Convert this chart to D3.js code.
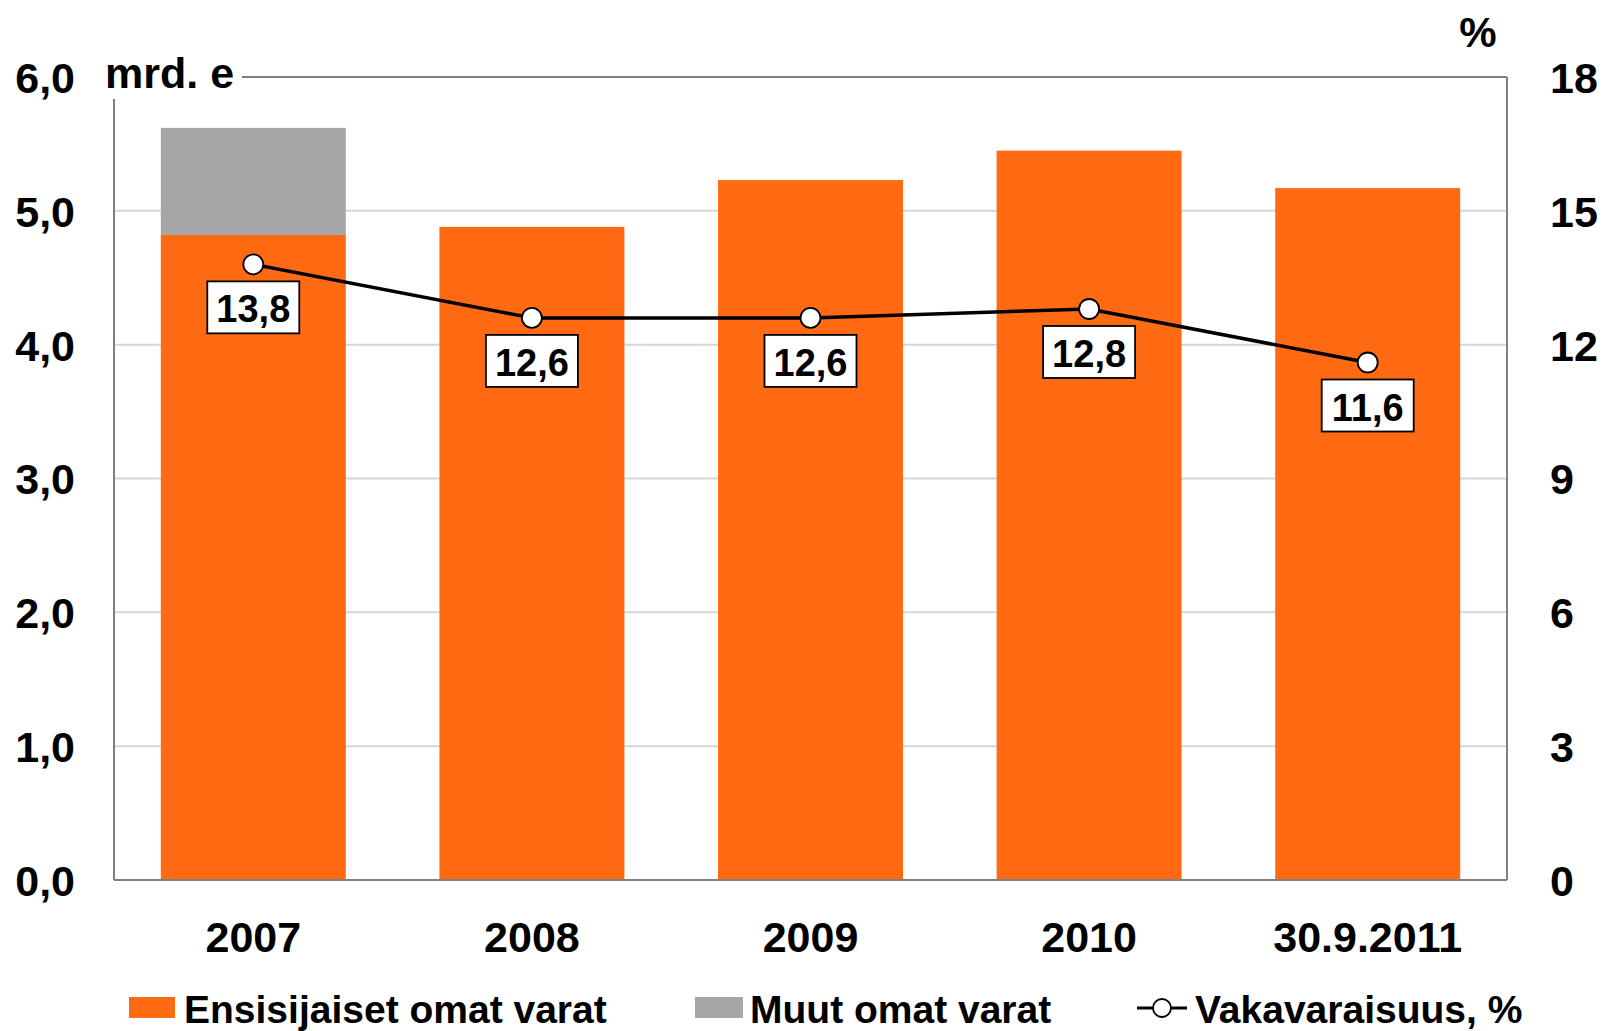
<!DOCTYPE html>
<html>
<head>
<meta charset="utf-8">
<script src="https://cdn.jsdelivr.net/npm/d3@7"></script>
<style>
  html, body { margin: 0; padding: 0; background: #fff; }
  svg { display: block; font-family: "Liberation Sans", Arial, sans-serif; font-weight: bold; }
</style>
</head>
<body>
<svg id="chart" width="1603" height="1031"></svg>
<script>
// Own funds of the banking sector (bn EUR) and capital adequacy ratio (%)
const categories = ["2007", "2008", "2009", "2010", "30.9.2011"];
const primaryFunds = [4.82, 4.88, 5.23, 5.45, 5.17];   // Ensisijaiset omat varat
const otherFunds = [0.80, 0, 0, 0, 0];                 // Muut omat varat
const capitalRatio = [13.8, 12.6, 12.6, 12.8, 11.6];   // Vakavaraisuus, %
const leftTicks = [0, 1, 2, 3, 4, 5, 6];
const rightTicks = [0, 3, 6, 9, 12, 15, 18];

const legendItems = ["Ensisijaiset omat varat", "Muut omat varat", "Vakavaraisuus, %"];

const ORANGE = "#FF6A13";
const GREY = "#A6A6A6";
const AXIS = "#808080";
const GRID = "#D6D6D6";

const svg = d3.select("#chart");
const plotL = 114, plotR = 1507, plotT = 77, plotB = 880;

const x = d3.scaleBand().domain(categories).range([plotL, plotR])
  .paddingInner(0.336).paddingOuter(0.168);
const y = d3.scaleLinear().domain([0, 6]).range([plotB, plotT]);
const y2 = d3.scaleLinear().domain([0, 18]).range([plotB, plotT]);

// horizontal gridlines
svg.append("g").selectAll("line").data(leftTicks.filter(d => d > 0 && d < 6)).join("line")
  .attr("x1", plotL).attr("x2", plotR)
  .attr("y1", d => y(d)).attr("y2", d => y(d))
  .attr("stroke", GRID).attr("stroke-width", 2);

// stacked bars
const rows = categories.map((c, i) => ({ cat: c, primary: primaryFunds[i], other: otherFunds[i] }));
const stack = d3.stack().keys(["primary", "other"])(rows);
const colors = { primary: ORANGE, other: GREY };
svg.append("g").selectAll("g").data(stack).join("g")
  .attr("fill", s => colors[s.key])
  .selectAll("rect").data(s => s.filter(d => d[1] - d[0] > 0)).join("rect")
  .attr("x", d => x(d.data.cat))
  .attr("width", x.bandwidth())
  .attr("y", d => y(d[1]))
  .attr("height", d => y(d[0]) - y(d[1]));

// plot frame
const frame = svg.append("g").attr("stroke", AXIS).attr("stroke-width", 2).attr("fill", "none");
frame.append("line").attr("x1", plotL).attr("x2", plotR).attr("y1", plotT).attr("y2", plotT);
frame.append("line").attr("x1", plotR).attr("x2", plotR).attr("y1", plotT).attr("y2", plotB);
frame.append("line").attr("x1", plotL).attr("x2", plotR).attr("y1", plotB).attr("y2", plotB);
frame.append("line").attr("x1", plotL).attr("x2", plotL).attr("y1", plotT).attr("y2", plotB);

// unit label on a white patch over the frame corner
svg.append("rect").attr("x", 96).attr("y", 40).attr("width", 146).attr("height", 59).attr("fill", "#fff");
svg.append("text").attr("x", 105).attr("y", 88).attr("font-size", 43).text("mrd. e");
svg.append("text").attr("x", 1478).attr("y", 47).attr("font-size", 42)
  .attr("text-anchor", "middle").text("%");

const styleTicks = g => g.selectAll("text")
  .attr("font-size", 43).attr("font-weight", "bold").attr("fill", "#000")
  .attr("font-family", "'Liberation Sans', Arial, sans-serif");

// left axis
const fmt = d3.format(".1f");
const leftAxis = d3.axisLeft(y).tickValues(leftTicks).tickSize(0)
  .tickFormat(d => fmt(d).replace(".", ","));
svg.append("g").attr("transform", "translate(75,0)").call(leftAxis)
  .call(g => g.select(".domain").remove())
  .call(styleTicks)
  .call(g => g.selectAll("text").attr("x", 0).attr("dy", "0.36em"));

// right axis
const rightAxis = d3.axisRight(y2).tickValues(rightTicks).tickSize(0);
svg.append("g").attr("transform", "translate(1550,0)").call(rightAxis)
  .call(g => g.select(".domain").remove())
  .call(styleTicks)
  .call(g => g.selectAll("text").attr("x", 0).attr("dy", "0.36em"));

// category axis
const xAxis = d3.axisBottom(x).tickSize(0).tickPadding(0);
svg.append("g").attr("transform", "translate(0,952)").call(xAxis)
  .call(g => g.select(".domain").remove())
  .call(styleTicks)
  .call(g => g.selectAll("text").attr("y", 0).attr("dy", 0));

// capital adequacy line
const cx = (d, i) => x(categories[i]) + x.bandwidth() / 2;
const line = d3.line().x(cx).y(d => y2(d));
svg.append("path").datum(capitalRatio).attr("d", line)
  .attr("fill", "none").attr("stroke", "#000").attr("stroke-width", 3.5);
svg.append("g").selectAll("circle").data(capitalRatio).join("circle")
  .attr("cx", cx).attr("cy", d => y2(d)).attr("r", 10)
  .attr("fill", "#fff").attr("stroke", "#000").attr("stroke-width", 1.8);

// value labels below points
const lab = svg.append("g").selectAll("g").data(capitalRatio).join("g")
  .attr("transform", (d, i) => `translate(${cx(d, i)},${y2(d) + 17})`);
lab.append("rect").attr("x", -46).attr("y", 0).attr("width", 92).attr("height", 52)
  .attr("fill", "#fff").attr("stroke", "#000").attr("stroke-width", 1.8);
lab.append("text").attr("x", 0).attr("y", 41).attr("text-anchor", "middle")
  .attr("font-size", 38).text(d => d3.format(".1f")(d).replace(".", ","));

// legend
const lg = svg.append("g");
lg.append("rect").attr("x", 129).attr("y", 997).attr("width", 46).attr("height", 21).attr("fill", ORANGE);
lg.append("text").attr("x", 184).attr("y", 1023).attr("font-size", 39).text(legendItems[0]);
lg.append("rect").attr("x", 695).attr("y", 997).attr("width", 48).attr("height", 21).attr("fill", GREY);
lg.append("text").attr("x", 750).attr("y", 1023).attr("font-size", 39).text(legendItems[1]);
lg.append("line").attr("x1", 1137).attr("x2", 1187).attr("y1", 1008).attr("y2", 1008)
  .attr("stroke", "#000").attr("stroke-width", 3);
lg.append("circle").attr("cx", 1162).attr("cy", 1008).attr("r", 9)
  .attr("fill", "#fff").attr("stroke", "#000").attr("stroke-width", 1.8);
lg.append("text").attr("x", 1195).attr("y", 1023).attr("font-size", 39).text(legendItems[2]);
</script>
</body>
</html>
